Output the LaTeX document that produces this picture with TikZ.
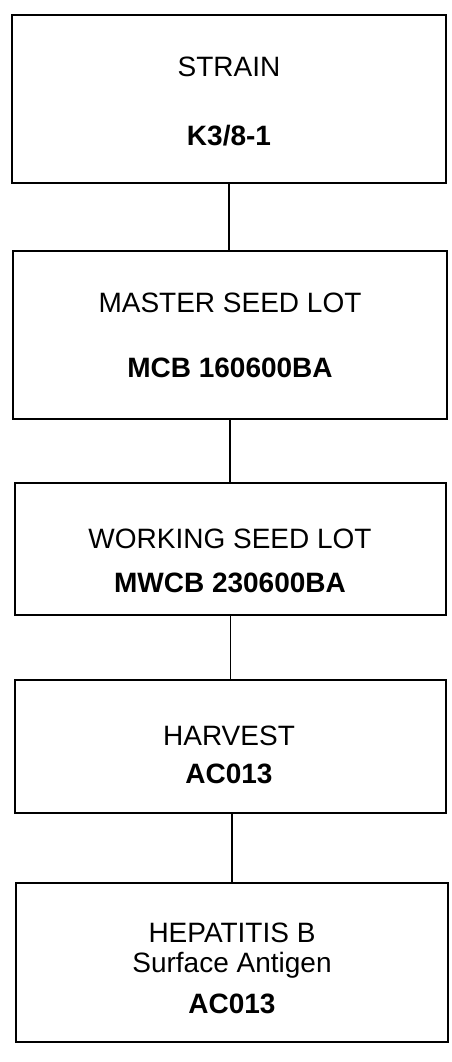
\documentclass[tikz,border=0pt]{standalone}
\usepackage{fontspec}
\setmainfont{Liberation Sans}
\begin{document}
\begin{tikzpicture}[x=0.5pt,y=-0.5pt,
    lotbox/.style={draw,line width=0.7pt,inner sep=0pt},
    lbl/.style={inner sep=0pt,text height=10pt,text depth=0pt,
        font=\fontsize{14pt}{17pt}\selectfont},
    code/.style={lbl,font=\fontsize{14pt}{17pt}\selectfont\bfseries}]
    \useasboundingbox (0,0) rectangle (451,1062);
    % boxes
    \node[lotbox,minimum width=217pt,minimum height=84pt] (strain) at (229,99) {};
    \node[lotbox,minimum width=217pt,minimum height=84pt] (master) at (230,335) {};
    \node[lotbox,minimum width=215.5pt,minimum height=66pt] (working) at (230.5,549) {};
    \node[lotbox,minimum width=215.5pt,minimum height=66.5pt] (harvest) at (230.5,746.5) {};
    \node[lotbox,minimum width=216pt,minimum height=79.5pt] (antigen) at (232,962.5) {};
    % texts
    \node[lbl] (strainT) at (229,66) {STRAIN};
    \node[code] (strainC) at (229,135) {K3/8-1};
    \node[lbl] (masterT) at (230,302) {MASTER SEED LOT};
    \node[code] (masterC) at (230,367) {MCB 160600BA};
    \node[lbl] (workingT) at (230,538) {WORKING SEED LOT};
    \node[code] (workingC) at (230,582) {MWCB 230600BA};
    \node[lbl] (harvestT) at (229,735) {HARVEST};
    \node[code] (harvestC) at (229,773) {AC013};
    \node[lbl] (antigenT) at (232,932) {HEPATITIS B};
    \node[lbl] (antigenS) at (232,962) {Surface Antigen};
    \node[code] (antigenC) at (232,1003) {AC013};
    % connectors
    \draw[line width=0.7pt] (strain.south) -- (strain.south |- master.north);
    \draw[line width=0.7pt] (master.south) -- (master.south |- working.north);
    \draw[line width=0.7pt] (working.south) -- (working.south |- harvest.north);
    \draw[line width=0.7pt] (antigen.north |- harvest.south) -- (antigen.north);
\end{tikzpicture}
\end{document}
